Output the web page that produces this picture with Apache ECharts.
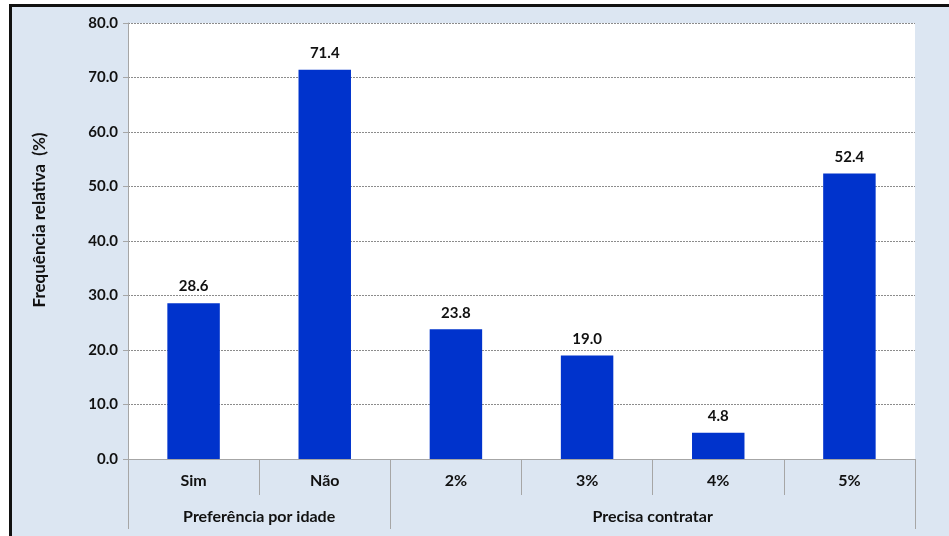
<!DOCTYPE html>
<html>
<head>
<meta charset="utf-8">
<script src="https://cdn.jsdelivr.net/npm/echarts@6/dist/echarts.min.js"></script>
<style>
  html, body { margin: 0; padding: 0; background: #ffffff; }
  #wrap { position: relative; width: 949px; height: 536px; overflow: hidden; background: #ffffff; }
  #chart {
    position: absolute; left: 9px; top: 4px;
    width: 937px; height: 529px;
    border-left: 3px solid #111; border-top: 3px solid #111;
  }
</style>
</head>
<body>
<div id="wrap"><div id="chart"></div></div>
<script>
// Categories and values
const categories = ['Sim', 'Não', '2%', '3%', '4%', '5%'];
const values = [28.6, 71.4, 23.8, 19.0, 4.8, 52.4];
// Group labels and how many categories each group spans
const groupNames = ['Preferência por idade', 'Precisa contratar'];
const groupSpans = [2, 4];
const yTicks = [0, 10, 20, 30, 40, 50, 60, 70, 80];
const yTitle = 'Frequência relativa  (%)';

// Half-step positions for the group axis: 2*n + 1 slots across the categories
const slots = categories.length * 2 + 1;
const groupData = new Array(slots).fill('');
const groupBoundaries = [0];
let pos = 0;
groupNames.forEach((g, i) => {
  groupData[pos + groupSpans[i]] = g;
  pos += groupSpans[i] * 2;
  groupBoundaries.push(pos);
});

const font = 'Lato, "Open Sans", sans-serif';
const textColor = '#111111';

const chart = echarts.init(document.getElementById('chart'));
chart.setOption({
  backgroundColor: '#dce6f2',
  animation: false,
  grid: {
    left: 116, right: 34, top: 16, bottom: 77,
    show: true, backgroundColor: '#ffffff', borderWidth: 0
  },
  xAxis: [
    {
      type: 'category',
      data: categories,
      axisLine: { lineStyle: { color: '#a6a6a6', width: 1 } },
      axisTick: { show: true, length: 36, lineStyle: { color: '#a6a6a6' } },
      axisLabel: {
        color: textColor, fontFamily: font, fontWeight: 'bold', fontSize: 16, margin: 14
      }
    },
    {
      type: 'category',
      position: 'bottom',
      boundaryGap: false,
      data: groupData,
      axisLine: { show: false },
      axisTick: {
        show: true, length: 70,
        interval: (idx) => groupBoundaries.includes(idx),
        lineStyle: { color: '#a6a6a6' }
      },
      axisLabel: {
        color: textColor, fontFamily: font, fontWeight: 'bold', fontSize: 16,
        margin: 50,
        interval: (idx, val) => val !== ''
      }
    }
  ],
  yAxis: {
    type: 'value',
    min: yTicks[0], max: yTicks[yTicks.length - 1], interval: 10,
    name: yTitle,
    nameLocation: 'middle',
    nameGap: 80,
    nameTextStyle: {
      color: textColor, fontFamily: font, fontWeight: 'bold', fontSize: 17,
      padding: [0, 0, 0, 42]
    },
    axisLine: { show: true, lineStyle: { color: '#a6a6a6' } },
    axisTick: { show: true, length: 5, lineStyle: { color: '#a6a6a6' } },
    axisLabel: {
      color: textColor, fontFamily: font, fontWeight: 'bold', fontSize: 15, margin: 10,
      formatter: (v) => v.toFixed(1)
    },
    splitLine: { lineStyle: { color: '#8c8c8c', type: [2, 1], width: 1 } }
  },
  series: [{
    type: 'bar',
    xAxisIndex: 0,
    data: values,
    barWidth: '40%',
    itemStyle: { color: '#0033cc' },
    label: {
      show: true, position: 'top', distance: 9,
      color: textColor, fontFamily: font, fontWeight: 'bold', fontSize: 15,
      formatter: (p) => p.value.toFixed(1)
    }
  }]
});
</script>
</body>
</html>
